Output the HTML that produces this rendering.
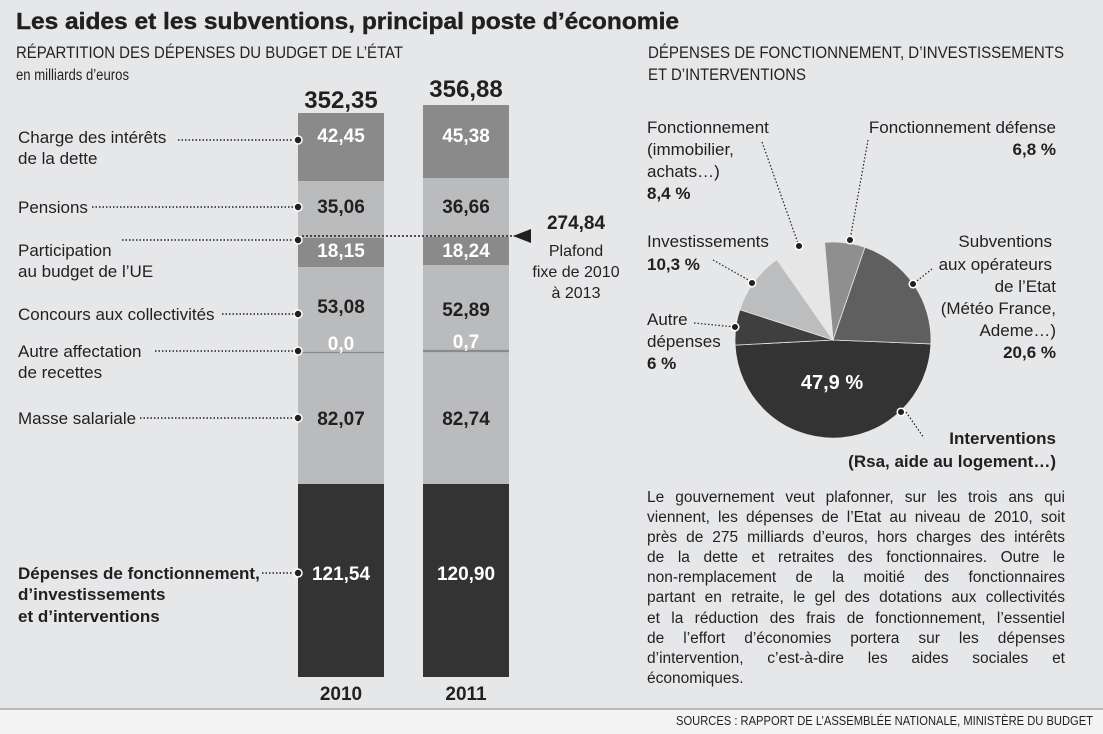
<!DOCTYPE html>
<html><head><meta charset="utf-8">
<style>
body{margin:0;background:#e6e7e8;}
#w{position:relative;width:1103px;height:734px;background:#e6e7e8;overflow:hidden;font-family:"Liberation Sans",sans-serif;color:#231f20}
svg{position:absolute;left:0;top:0}
.p{position:absolute;left:647px;width:418px;font-family:"Liberation Sans",sans-serif;font-size:15.5px;line-height:20.1px;color:#231f20}
.p div{text-align:justify;text-align-last:justify;white-space:nowrap;height:20.1px}
</style></head><body><div id="w">
<svg width="1103" height="734" viewBox="0 0 1103 734" font-family="'Liberation Sans',sans-serif" fill="#231f20">
<rect x="0" y="709" width="1103" height="25" fill="#f3f3f3"/>
<line x1="0" y1="709" x2="1103" y2="709" stroke="#888" stroke-width="1"/>
<text x="16" y="29" font-weight="bold" font-size="23" textLength="663" lengthAdjust="spacingAndGlyphs" stroke="#231f20" stroke-width="0.4">Les aides et les subventions, principal poste d’économie</text>
<text x="16" y="58" font-size="17" textLength="387" lengthAdjust="spacingAndGlyphs">RÉPARTITION DES DÉPENSES DU BUDGET DE L’ÉTAT</text>
<text x="16" y="80" font-size="15.5" textLength="113" lengthAdjust="spacingAndGlyphs">en milliards d’euros</text>
<text x="648" y="58" font-size="17" textLength="416" lengthAdjust="spacingAndGlyphs">DÉPENSES DE FONCTIONNEMENT, D’INVESTISSEMENTS</text>
<text x="648" y="80" font-size="17" textLength="158" lengthAdjust="spacingAndGlyphs">ET D’INTERVENTIONS</text>

<rect x="298" y="113" width="86" height="68" fill="#8a8a8b"/>
<rect x="298" y="181" width="86" height="57" fill="#b9bbbd"/>
<rect x="298" y="238" width="86" height="29" fill="#8a8a8b"/>
<rect x="298" y="267" width="86" height="217" fill="#b9bbbd"/>
<line x1="298" y1="352.5" x2="384" y2="352.5" stroke="#8a8a8b" stroke-width="1.2"/>
<rect x="298" y="484" width="86" height="193" fill="#333"/>
<rect x="423" y="105" width="86" height="73" fill="#8a8a8b"/>
<rect x="423" y="178" width="86" height="59" fill="#b9bbbd"/>
<rect x="423" y="237" width="86" height="28" fill="#8a8a8b"/>
<rect x="423" y="265" width="86" height="219" fill="#b9bbbd"/>
<line x1="423" y1="351" x2="509" y2="351" stroke="#8a8a8b" stroke-width="2.2"/>
<rect x="423" y="484" width="86" height="193" fill="#333"/>

<g font-weight="bold" font-size="24" text-anchor="middle">
<text x="341" y="108">352,35</text>
<text x="466" y="97">356,88</text>
</g>
<g font-weight="bold" font-size="19" text-anchor="middle">
<text x="341" y="142" fill="#fff">42,45</text>
<text x="466" y="142" fill="#fff">45,38</text>
<text x="341" y="213">35,06</text>
<text x="466" y="213">36,66</text>
<text x="341" y="257" fill="#fff">18,15</text>
<text x="466" y="257" fill="#fff">18,24</text>
<text x="341" y="313">53,08</text>
<text x="466" y="316">52,89</text>
<text x="341" y="350" fill="#fff">0,0</text>
<text x="466" y="348" fill="#fff">0,7</text>
<text x="341" y="425">82,07</text>
<text x="466" y="425">82,74</text>
<text x="341" y="580" fill="#fff">121,54</text>
<text x="466" y="580" fill="#fff">120,90</text>
<text x="341" y="700" fill="#231f20">2010</text>
<text x="466" y="700" fill="#231f20">2011</text>
</g>

<line x1="298" y1="236" x2="515" y2="236" stroke="#231f20" stroke-width="1.5" stroke-dasharray="2,2"/>
<polygon points="513,236 531,229 531,243" fill="#231f20"/>
<text x="576" y="229" font-weight="bold" font-size="19" text-anchor="middle">274,84</text>
<g font-size="16" text-anchor="middle">
<text x="576" y="256">Plafond</text>
<text x="576" y="277">fixe de 2010</text>
<text x="576" y="298">à 2013</text>
</g>

<g font-size="17">
<text x="18" y="143">Charge des intérêts</text>
<text x="18" y="164">de la dette</text>
<text x="18" y="213">Pensions</text>
<text x="18" y="256">Participation</text>
<text x="18" y="277">au budget de l’UE</text>
<text x="18" y="320">Concours aux collectivités</text>
<text x="18" y="357">Autre affectation</text>
<text x="18" y="378">de recettes</text>
<text x="18" y="424">Masse salariale</text>
</g>
<g font-size="17" font-weight="bold">
<text x="18" y="579">Dépenses de fonctionnement,</text>
<text x="18" y="600">d’investissements</text>
<text x="18" y="622">et d’interventions</text>
</g>
<g stroke="#231f20" stroke-width="1.5" stroke-dasharray="1.5,2">
<line x1="178" y1="140" x2="298" y2="140"/>
<line x1="92" y1="207" x2="298" y2="207"/>
<line x1="122" y1="240" x2="298" y2="240"/>
<line x1="222" y1="314" x2="298" y2="314"/>
<line x1="155" y1="351" x2="298" y2="351"/>
<line x1="140" y1="418" x2="298" y2="418"/>
<line x1="262" y1="573" x2="298" y2="573"/>
</g>
<g fill="#231f20" stroke="#fff" stroke-width="1.5">
<circle cx="298" cy="140" r="4"/><circle cx="298" cy="207" r="4"/><circle cx="298" cy="240" r="4"/>
<circle cx="298" cy="314" r="4"/><circle cx="298" cy="351" r="4"/><circle cx="298" cy="418" r="4"/>
<circle cx="298" cy="573" r="4"/>
</g>

<g stroke="#e6e7e8" stroke-width="0.8">
<path d="M833,340 L930.9,343.9 A98,98 0 0 1 735.1,345.1 Z" fill="#333"/>
<path d="M833,340 L864.9,247.3 A98,98 0 0 1 930.9,343.9 Z" fill="#5f5f60"/>
<path d="M833,340 L824.5,242.4 A98,98 0 0 1 864.9,247.3 Z" fill="#8f8f90"/>
<path d="M833,340 L776.8,259.7 A98,98 0 0 1 824.5,242.4 Z" fill="#e6e6e6"/>
<path d="M833,340 L739.8,309.7 A98,98 0 0 1 776.8,259.7 Z" fill="#bcbdbf"/>
<path d="M833,340 L735.1,345.1 A98,98 0 0 1 739.8,309.7 Z" fill="#3f3f40"/>
</g>
<text x="832" y="389" font-weight="bold" font-size="20" fill="#fff" text-anchor="middle">47,9 %</text>
<g stroke="#231f20" stroke-width="1.2" stroke-dasharray="1.5,2" fill="none">
<line x1="762" y1="142" x2="799" y2="246"/>
<line x1="868" y1="140" x2="850" y2="240"/>
<line x1="713" y1="260" x2="752" y2="282"/>
<line x1="694" y1="323" x2="735" y2="327"/>
<line x1="932" y1="269" x2="913" y2="284"/>
<line x1="906" y1="412" x2="924" y2="438"/>
</g>
<g fill="#231f20" stroke="#fff" stroke-width="1.5">
<circle cx="799" cy="246" r="3.8"/><circle cx="850" cy="240" r="3.8"/><circle cx="752" cy="283" r="3.8"/>
<circle cx="735" cy="327" r="3.8"/><circle cx="913" cy="284" r="3.8"/><circle cx="901" cy="412" r="3.8"/>
</g>
<g font-size="17">
<text x="647" y="133">Fonctionnement</text>
<text x="647" y="155">(immobilier,</text>
<text x="647" y="177">achats…)</text>
<text x="647" y="247">Investissements</text>
<text x="647" y="325">Autre</text>
<text x="647" y="347">dépenses</text>
<text x="1056" y="133" text-anchor="end">Fonctionnement défense</text>
<text x="1052" y="247" text-anchor="end">Subventions</text>
<text x="1052" y="270" text-anchor="end">aux opérateurs</text>
<text x="1056" y="292" text-anchor="end">de l’Etat</text>
<text x="1056" y="314" text-anchor="end">(Météo France,</text>
<text x="1056" y="336" text-anchor="end">Ademe…)</text>
</g>
<g font-size="17" font-weight="bold">
<text x="647" y="199">8,4 %</text>
<text x="647" y="270">10,3 %</text>
<text x="647" y="369">6 %</text>
<text x="1056" y="155" text-anchor="end">6,8 %</text>
<text x="1056" y="358" text-anchor="end">20,6 %</text>
<text x="1056" y="444" text-anchor="end">Interventions</text>
<text x="1056" y="467" text-anchor="end">(Rsa, aide au logement…)</text>
</g>
<text x="1093" y="725" font-size="13" text-anchor="end" textLength="417" lengthAdjust="spacingAndGlyphs">SOURCES : RAPPORT DE L’ASSEMBLÉE NATIONALE, MINISTÈRE DU BUDGET</text>
</svg>
<div class="p" style="top:488px">
<div>Le gouvernement veut plafonner, sur les trois ans qui</div>
<div>viennent, les dépenses de l’Etat au niveau de 2010, soit</div>
<div>près de 275 milliards d’euros, hors charges des intérêts</div>
<div>de la dette et retraites des fonctionnaires. Outre le</div>
<div>non-remplacement de la moitié des fonctionnaires</div>
<div>partant en retraite, le gel des dotations aux collectivités</div>
<div>et la réduction des frais de fonctionnement, l’essentiel</div>
<div>de l’effort d’économies portera sur les dépenses</div>
<div>d’intervention, c’est-à-dire les aides sociales et</div>
<div style="text-align-last:left">économiques.</div>
</div>
</div></body></html>
